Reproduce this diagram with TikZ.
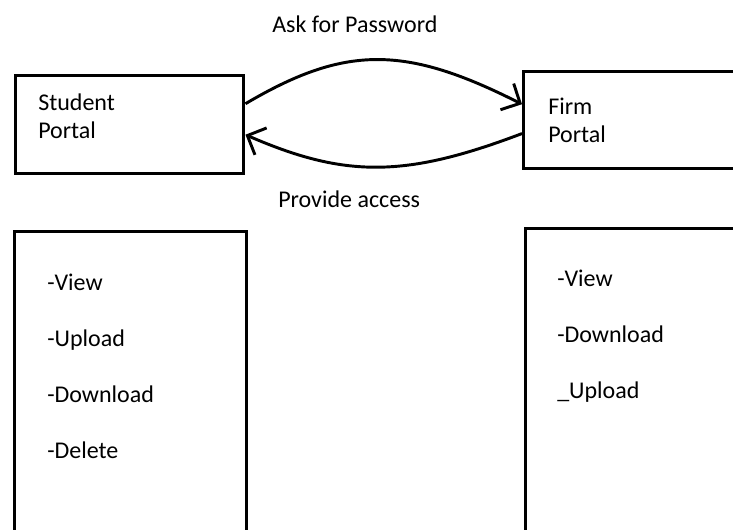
\documentclass[tikz,border=0pt]{standalone}
\usepackage{fontspec}
\setmainfont{Carlito}
\usetikzlibrary{arrows.meta}
\tikzset{
  box/.style={draw, line width=2.6pt, anchor=north west, inner sep=0pt},
  portal/.style={anchor=north west, align=left, inner sep=0pt, font=\fontsize{18}{21}\selectfont},
  tasks/.style={anchor=north west, align=left, inner sep=0pt, font=\fontsize{18}{42}\selectfont},
  msg/.style={anchor=base west, inner sep=0pt, font=\fontsize{18}{21}\selectfont},
  flow/.style={line width=2.2pt, -{Straight Barb[length=11pt,width=22pt]}}
}
\begin{document}
\begin{tikzpicture}[x=0.75pt,y=-0.75pt]
  \clip (0,0) rectangle (733,530);

  % portals
  \node[box, minimum width=171pt, minimum height=73.5pt] (student) at (14,74) {};
  \node[box, minimum width=180pt, minimum height=72.75pt] (firm) at (522,70) {};
  \node[portal] (studentname) at (38,94) {Student\\Portal};
  \node[portal] (firmname) at (548,98) {Firm\\Portal};

  % what each side can do
  \node[box, minimum width=174pt, minimum height=250pt] (studentjobs) at (13,230) {};
  \node[box, minimum width=180pt, minimum height=250pt] (firmjobs) at (524,227) {};
  \node[tasks] (studentlist) at (47,274) {-View\\-Upload\\-Download\\-Delete};
  \node[tasks] (firmlist) at (557,270) {-View\\-Download\\\_Upload};

  % messages
  \draw[flow] ([yshift=15.75pt]student.east) .. controls (345,45) and (405,45) .. ([yshift=12pt]firm.west);
  \draw[flow] ([yshift=-10pt]firm.west) .. controls (405,178) and (345,178) .. ([yshift=-7.5pt]student.east);
  \node[msg] (ask) at (272,33) {Ask for Password};
  \node[msg] (access) at (278,208) {Provide access};
\end{tikzpicture}
\end{document}
